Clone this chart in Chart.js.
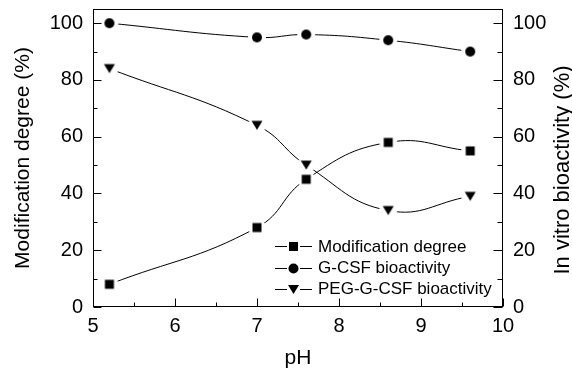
<!DOCTYPE html>
<html>
<head>
<meta charset="utf-8">
<script src="https://cdn.jsdelivr.net/npm/chart.js@4.4.0/dist/chart.umd.min.js"></script>
<style>
  html, body { margin: 0; padding: 0; background: #fff; }
  canvas { display: block; }
</style>
</head>
<body>
<canvas id="chart" width="572" height="371"></canvas>
<script>
// data
const phValues = [5.2, 7.0, 7.6, 8.6, 9.6];
const modificationDegree = [8, 28, 45, 58, 55];
const gcsfBioactivity = [100, 95, 96, 94, 90];
const pegBioactivity = [84, 64, 50, 34, 39];

const seriesLabels = ['Modification degree', 'G-CSF bioactivity', 'PEG-G-CSF bioactivity'];
const xTicks = [5, 6, 7, 8, 9, 10];
const yTicks = [0, 20, 40, 60, 80, 100];

const FONT = '"Liberation Sans", Arial, sans-serif';
const shapes = ['square', 'circle', 'triangle'];

function drawShape(g, shape, cx, cy) {
  g.beginPath();
  if (shape === 'square') {
    g.rect(cx - 4.5, cy - 4.5, 9, 9);
  } else if (shape === 'circle') {
    g.arc(cx, cy, 5, 0, Math.PI * 2);
  } else {
    g.moveTo(cx - 5.5, cy - 4.5);
    g.lineTo(cx + 5.5, cy - 4.5);
    g.lineTo(cx, cy + 4.5);
    g.closePath();
  }
  g.fill();
}

// marker with a white halo so the curve stops short of it (Origin look)
function makeMarker(shape) {
  const c = document.createElement('canvas');
  c.width = 24;
  c.height = 24;
  const g = c.getContext('2d');
  g.fillStyle = '#fff';
  g.beginPath();
  g.arc(12, 12, 9, 0, Math.PI * 2);
  g.fill();
  g.fillStyle = '#000';
  drawShape(g, shape, 12, 12);
  return c;
}

const markers = shapes.map(makeMarker);

function toPoints(ys) {
  return phValues.map((x, i) => ({ x: x, y: ys[i] }));
}

function makeDataset(i, ys, axis) {
  return {
    label: seriesLabels[i],
    data: toPoints(ys),
    yAxisID: axis,
    borderColor: '#000',
    borderWidth: 1,
    tension: 0.45,
    fill: false,
    pointStyle: markers[i],
    pointRadius: 5
  };
}

function midpoints(arr) {
  const out = [];
  for (let i = 0; i < arr.length - 1; i++) out.push((arr[i] + arr[i + 1]) / 2);
  return out;
}

// frame + inward ticks
const framePlugin = {
  id: 'frame',
  afterDraw(chart) {
    const { ctx, chartArea: a, scales } = chart;
    const L = Math.round(a.left) + 0.5, R = Math.round(a.right) - 0.5;
    const T = Math.round(a.top) + 0.5, B = Math.round(a.bottom) - 0.5;
    ctx.save();
    ctx.strokeStyle = '#000';
    ctx.lineWidth = 1;
    ctx.strokeRect(L, T, R - L, B - T);
    ctx.beginPath();
    const tick = (list, len, fn) => list.forEach(v => fn(v, len));
    const xt = (v, len) => {
      const p = Math.round(scales.x.getPixelForValue(v)) + 0.5;
      ctx.moveTo(p, B); ctx.lineTo(p, B - len);
    };
    tick(xTicks, 8, xt);
    tick(midpoints(xTicks), 4, xt);
    const yl = (v, len) => {
      const p = Math.round(scales.y.getPixelForValue(v)) + 0.5;
      ctx.moveTo(L, p); ctx.lineTo(L + len, p);
    };
    tick(yTicks, 8, yl);
    tick(midpoints(yTicks), 4, yl);
    const yr = (v, len) => {
      const p = Math.round(scales.y1.getPixelForValue(v)) + 0.5;
      ctx.moveTo(R, p); ctx.lineTo(R - len, p);
    };
    tick(yTicks, 9, yr);
    tick(midpoints(yTicks), 5, yr);
    ctx.stroke();

    // right axis title reads bottom to top, like the left one
    ctx.font = '22px ' + FONT;
    ctx.fillStyle = '#000';
    ctx.textAlign = 'center';
    ctx.textBaseline = 'middle';
    ctx.translate(563, 170);
    ctx.rotate(-Math.PI / 2);
    ctx.fillText('In vitro bioactivity (%)', 0, 0);
    ctx.restore();
  }
};

// legend inside the plot: short line, marker, short line, text
const legendPlugin = {
  id: 'innerLegend',
  afterDraw(chart) {
    const { ctx } = chart;
    const rows = [246, 267.5, 288.5];
    ctx.save();
    ctx.font = '17px ' + FONT;
    ctx.fillStyle = '#000';
    ctx.strokeStyle = '#000';
    ctx.lineWidth = 1;
    ctx.textAlign = 'left';
    ctx.textBaseline = 'middle';
    chart.data.datasets.forEach((ds, i) => {
      const y = rows[i];
      const ly = Math.round(y) + 0.5;
      ctx.beginPath();
      ctx.moveTo(275, ly);
      ctx.lineTo(287, ly);
      ctx.moveTo(300, ly);
      ctx.lineTo(312, ly);
      ctx.stroke();
      drawShape(ctx, shapes[i], 293.5, ly);
      ctx.fillText(ds.label, 318, y + 1);
    });
    ctx.restore();
  }
};

function fixSize(prop, size) {
  return s => {
    s[prop] = size;
    s.paddingTop = 0;
    s.paddingBottom = 0;
    s.paddingLeft = 0;
    s.paddingRight = 0;
  };
}

const tickFont = { size: 20, family: FONT };
const titleFont = { size: 21, family: FONT };

new Chart(document.getElementById('chart'), {
  type: 'line',
  data: {
    datasets: [
      makeDataset(0, modificationDegree, 'y'),
      makeDataset(1, gcsfBioactivity, 'y1'),
      makeDataset(2, pegBioactivity, 'y1')
    ]
  },
  options: {
    responsive: false,
    animation: false,
    events: [],
    layout: { padding: { top: 9, left: 0, right: 0, bottom: 0 } },
    plugins: {
      legend: { display: false },
      tooltip: { enabled: false }
    },
    scales: {
      x: {
        type: 'linear',
        min: 5,
        max: 10,
        afterBuildTicks: s => { s.ticks = xTicks.map(v => ({ value: v })); },
        afterFit: fixSize('height', 64),
        grid: { display: false, drawTicks: false },
        border: { display: false },
        ticks: { color: '#000', font: tickFont, padding: 7, maxRotation: 0 },
        title: { display: true, text: 'pH', color: '#000', font: titleFont, padding: { top: 0, bottom: 0 } }
      },
      y: {
        position: 'left',
        min: 0,
        max: 105,
        afterBuildTicks: s => { s.ticks = yTicks.map(v => ({ value: v })); },
        afterFit: fixSize('width', 93),
        grid: { display: false, drawTicks: false },
        border: { display: false },
        ticks: { color: '#000', font: tickFont, padding: 10 },
        title: { display: true, text: 'Modification degree (%)', color: '#000', font: titleFont, padding: { top: 11, bottom: 0 } }
      },
      y1: {
        position: 'right',
        min: 0,
        max: 105,
        afterBuildTicks: s => { s.ticks = yTicks.map(v => ({ value: v })); },
        afterFit: fixSize('width', 69),
        grid: { display: false, drawTicks: false },
        border: { display: false },
        ticks: { color: '#000', font: tickFont, padding: 10 }
      }
    }
  },
  plugins: [framePlugin, legendPlugin]
});
</script>
</body>
</html>
